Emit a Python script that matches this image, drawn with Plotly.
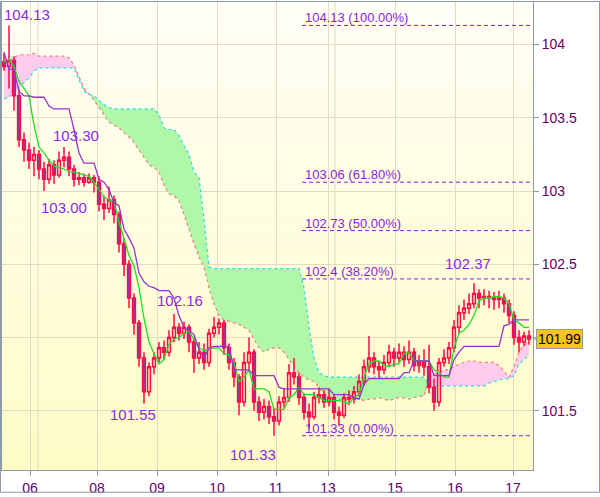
import plotly.graph_objects as go

# ---------------- data ----------------
day_labels = ["06", "08", "09", "10", "11", "13", "15", "16", "17"]
day_pos = [5.2, 18.6, 30.6, 42.6, 54.4, 64.8, 78.2, 90.2, 101.8]
extra_grid = [6.8, 66.2]

y_ticks = [101.5, 102.0, 102.5, 103.0, 103.5, 104.0]
y_ticklabels = ["101.5", "102", "102.5", "103", "103.5", "104"]

opens = [
    103.88, 103.85, 103.89, 103.65, 103.35, 103.28, 103.21, 103.25, 103.15, 103.08,
    103.18, 103.11, 103.21, 103.23, 103.15, 103.08, 103.09, 103.06, 103.09, 103.06,
    102.91, 102.88, 102.94, 102.84, 102.64, 102.50, 102.27, 102.10, 101.86, 101.63,
    101.80, 101.86, 101.93, 101.90, 102.00, 102.07, 102.03, 102.07, 101.97, 101.86,
    101.90, 101.83, 102.03, 102.07, 102.10, 101.93, 101.83, 101.73, 101.56, 101.83,
    101.90, 101.56, 101.49, 101.53, 101.46, 101.43, 101.56, 101.59, 101.76, 101.73,
    101.59, 101.49, 101.46, 101.59, 101.61, 101.56, 101.59, 101.49, 101.47, 101.59,
    101.58, 101.63, 101.70, 101.80, 101.86, 101.80, 101.78, 101.83, 101.90, 101.86,
    101.90, 101.85, 101.90, 101.81, 101.83, 101.80, 101.66, 101.56, 101.83, 101.86,
    101.93, 102.07, 102.17, 102.20, 102.23, 102.30, 102.27, 102.28, 102.27, 102.26,
    102.27, 102.23, 102.15, 102.00, 101.97, 102.01]
closes = [
    103.85, 103.89, 103.65, 103.35, 103.28, 103.21, 103.25, 103.15, 103.08, 103.18,
    103.11, 103.21, 103.23, 103.15, 103.08, 103.09, 103.06, 103.09, 103.06, 102.91,
    102.88, 102.94, 102.84, 102.64, 102.50, 102.27, 102.10, 101.86, 101.63, 101.80,
    101.86, 101.93, 101.90, 102.00, 102.07, 102.03, 102.07, 101.97, 101.86, 101.90,
    101.83, 102.03, 102.07, 102.10, 101.93, 101.83, 101.73, 101.56, 101.83, 101.90,
    101.56, 101.49, 101.53, 101.46, 101.43, 101.56, 101.59, 101.76, 101.73, 101.59,
    101.49, 101.46, 101.59, 101.61, 101.56, 101.59, 101.49, 101.47, 101.59, 101.58,
    101.63, 101.70, 101.80, 101.86, 101.80, 101.78, 101.83, 101.90, 101.86, 101.90,
    101.85, 101.90, 101.81, 101.83, 101.80, 101.66, 101.56, 101.83, 101.86, 101.93,
    102.07, 102.17, 102.20, 102.23, 102.30, 102.27, 102.28, 102.27, 102.26, 102.27,
    102.23, 102.15, 102.00, 101.97, 102.01, 101.99]
highs = [
    103.94, 104.13, 103.92, 103.70, 103.40, 103.33, 103.30, 103.28, 103.20, 103.22,
    103.21, 103.27, 103.30, 103.27, 103.18, 103.13, 103.12, 103.12, 103.11, 103.10,
    102.97, 103.03, 102.97, 102.86, 102.68, 102.53, 102.30, 102.12, 101.90, 101.83,
    101.90, 101.97, 101.98, 102.05, 102.16, 102.10, 102.11, 102.09, 102.00, 101.97,
    101.96, 102.06, 102.14, 102.13, 102.12, 101.96, 101.86, 101.75, 101.90, 102.00,
    101.92, 101.60, 101.58, 101.57, 101.52, 101.60, 101.65, 101.82, 101.86, 101.76,
    101.62, 101.55, 101.63, 101.66, 101.64, 101.65, 101.61, 101.53, 101.62, 101.64,
    101.67, 101.75, 101.85, 102.01, 101.90, 101.84, 101.88, 101.95, 101.93, 101.96,
    101.94, 101.98, 101.93, 101.88, 101.92, 101.95, 101.72, 101.86, 101.92, 101.97,
    102.12, 102.22, 102.26, 102.30, 102.37, 102.33, 102.33, 102.32, 102.31, 102.32,
    102.30, 102.26, 102.18, 102.05, 102.04, 102.05]
lows = [
    103.82, 103.70, 103.55, 103.30, 103.20, 103.15, 103.10, 103.08, 103.00, 103.05,
    103.05, 103.09, 103.16, 103.10, 103.03, 103.04, 103.03, 103.05, 102.99, 102.86,
    102.80, 102.85, 102.78, 102.58, 102.42, 102.20, 102.02, 101.80, 101.55, 101.60,
    101.75, 101.83, 101.85, 101.87, 101.97, 101.98, 101.99, 101.90, 101.76, 101.82,
    101.78, 101.80, 102.00, 102.02, 101.88, 101.78, 101.66, 101.47, 101.53, 101.78,
    101.50, 101.43, 101.44, 101.41, 101.33, 101.40, 101.52, 101.56, 101.68, 101.54,
    101.44, 101.38, 101.44, 101.55, 101.52, 101.53, 101.44, 101.40, 101.45, 101.54,
    101.55, 101.60, 101.67, 101.76, 101.75, 101.72, 101.75, 101.80, 101.80, 101.83,
    101.80, 101.82, 101.77, 101.76, 101.74, 101.62, 101.50, 101.53, 101.80, 101.82,
    101.90, 102.03, 102.12, 102.16, 102.20, 102.20, 102.22, 102.20, 102.19, 102.20,
    102.17, 102.10, 101.95, 101.90, 101.94, 101.95]

tenkan = [
    103.88, 103.90, 103.85, 103.75, 103.70, 103.65, 103.45, 103.30, 103.26, 103.21,
    103.17, 103.16, 103.15, 103.13, 103.13, 103.12, 103.11, 103.10, 103.06, 103.01,
    102.96, 102.94, 102.93, 102.79, 102.67, 102.56, 102.49, 102.34, 102.13, 101.97,
    101.89, 101.82, 101.85, 101.95, 101.99, 102.00, 102.03, 102.04, 101.99, 101.93,
    101.91, 101.92, 101.93, 101.93, 101.89, 101.88, 101.83, 101.70, 101.73, 101.78,
    101.65, 101.65, 101.65, 101.63, 101.51, 101.51, 101.51, 101.59, 101.61, 101.66,
    101.61, 101.61, 101.61, 101.59, 101.57, 101.57, 101.57, 101.57, 101.56, 101.55,
    101.59, 101.61, 101.73, 101.82, 101.84, 101.84, 101.81, 101.80, 101.82, 101.82,
    101.89, 101.90, 101.84, 101.84, 101.84, 101.84, 101.78, 101.76, 101.73, 101.73,
    101.93, 102.03, 102.05, 102.09, 102.15, 102.25, 102.27, 102.27, 102.28, 102.28,
    102.27, 102.23, 102.12, 102.10, 102.07, 102.07]
kijun = [
    103.95, 103.83, 103.83, 103.68, 103.65, 103.65, 103.64, 103.64, 103.64, 103.58,
    103.56, 103.56, 103.56, 103.56, 103.42, 103.26, 103.19, 103.19, 103.19, 103.08,
    103.06, 103.01, 102.92, 102.90, 102.74, 102.68, 102.61, 102.44, 102.38, 102.35,
    102.34, 102.32, 102.32, 102.32, 102.27, 102.15, 102.07, 102.05, 102.02, 101.92,
    101.86, 101.93, 101.94, 101.94, 101.94, 101.94, 101.78, 101.78, 101.78, 101.78,
    101.74, 101.74, 101.74, 101.74, 101.74, 101.66, 101.65, 101.65, 101.65, 101.65,
    101.65, 101.65, 101.65, 101.65, 101.65, 101.65, 101.61, 101.61, 101.61, 101.61,
    101.59, 101.58, 101.68, 101.72, 101.72, 101.72, 101.72, 101.72, 101.72, 101.72,
    101.76, 101.76, 101.84, 101.84, 101.84, 101.84, 101.74, 101.74, 101.74, 101.74,
    101.85, 101.90, 101.94, 101.94, 101.94, 101.94, 101.94, 101.94, 101.94, 101.94,
    102.08, 102.09, 102.12, 102.12, 102.12, 102.12]
span_red = [
    103.89, 103.89, 103.91, 103.93, 103.93, 103.93, 103.94, 103.92, 103.92, 103.92,
    103.92, 103.92, 103.92, 103.91, 103.86, 103.78, 103.70, 103.66, 103.62, 103.57,
    103.52, 103.47, 103.45, 103.43, 103.40, 103.37, 103.33, 103.28, 103.23, 103.18,
    103.16, 103.13, 103.04, 102.98, 102.97, 102.93, 102.84, 102.74, 102.64, 102.55,
    102.48, 102.34, 102.23, 102.15, 102.12, 102.11, 102.10, 102.09, 102.07, 102.05,
    101.99, 101.93, 101.90, 101.92, 101.93, 101.93, 101.90, 101.85, 101.80, 101.76,
    101.73, 101.71, 101.70, 101.66, 101.61, 101.58, 101.57, 101.58, 101.57, 101.58,
    101.59, 101.58, 101.57, 101.58, 101.58, 101.59, 101.58, 101.57, 101.58, 101.59,
    101.59, 101.58, 101.59, 101.60, 101.60, 101.73, 101.75, 101.76, 101.78, 101.78,
    101.80, 101.82, 101.83, 101.84, 101.84, 101.83, 101.83, 101.83, 101.83, 101.81,
    101.77, 101.73, 101.80, 101.90, 101.95, 101.97]
span_cyan = [
    103.63, 103.64, 103.68, 103.71, 103.74, 103.77, 103.82, 103.84, 103.84, 103.84,
    103.84, 103.84, 103.84, 103.84, 103.84, 103.76, 103.68, 103.66, 103.65, 103.62,
    103.59, 103.57, 103.56, 103.56, 103.56, 103.56, 103.56, 103.56, 103.56, 103.56,
    103.56, 103.52, 103.43, 103.42, 103.42, 103.38, 103.31, 103.25, 103.13, 103.09,
    102.81, 102.48, 102.47, 102.47, 102.47, 102.47, 102.47, 102.47, 102.47, 102.47,
    102.47, 102.47, 102.47, 102.47, 102.47, 102.47, 102.47, 102.47, 102.47, 102.47,
    102.34, 102.07, 101.86, 101.76, 101.74, 101.73, 101.73, 101.73, 101.73, 101.73,
    101.73, 101.73, 101.73, 101.73, 101.73, 101.73, 101.73, 101.73, 101.73, 101.73,
    101.73, 101.73, 101.73, 101.73, 101.73, 101.68, 101.67, 101.67, 101.67, 101.67,
    101.67, 101.67, 101.67, 101.67, 101.67, 101.67, 101.67, 101.69, 101.70, 101.71,
    101.72, 101.72, 101.74, 101.82, 101.85, 101.88]

fib_levels = [104.13, 103.06, 102.73, 102.40, 101.33]
fib_labels = ["104.13 (100.00%)", "103.06 (61.80%)", "102.73 (50.00%)",
              "102.4 (38.20%)", "101.33 (0.00%)"]
fib_start, fib_end = 59.6, 105.4

# extreme labels: text, candle index, price, pixel offsets
peak_text = ["104.13", "103.30", "103.00", "102.16", "101.55", "101.33", "102.37"]
peak_idx = [1, 12, 8, 34, 28, 54, 94]
peak_price = [104.13, 103.30, 103.00, 102.16, 101.55, 101.33, 102.37]
peak_dx = [18, 12, 20, 6, -11, -21, -6]
peak_dy = [11, 12, -16, 14, -11, -19, 20]

last_price = 101.99

# ---------------- figure ----------------
FONT = "Liberation Sans, Arial, sans-serif"
xs = list(range(len(closes)))
X_RANGE = [-0.4, 105.8]
Y_RANGE = [101.096, 104.29]
L, R, T, B = 2, 67, 1, 23
W, H = 600, 497
PW, PH = W - L - R, H - T - B

fig = go.Figure()
shapes = []

# background gradient (plot area)
top_c, bot_c = (255, 255, 246), (255, 251, 198)
NB = 40
for k in range(NB):
    f = k / (NB - 1)
    c = tuple(round(top_c[j] + (bot_c[j] - top_c[j]) * f) for j in range(3))
    shapes.append(dict(type="rect", xref="paper", yref="paper", x0=0, x1=1,
                       y0=1 - (k + 1) / NB, y1=1 - k / NB,
                       fillcolor="rgb(%d,%d,%d)" % c, line_width=0, layer="below"))
for gx in extra_grid:
    shapes.append(dict(type="line", xref="x", yref="paper", x0=gx, x1=gx, y0=0, y1=1,
                       line=dict(color="#e0dcc4", width=1), layer="below"))

lo = [min(a, b) for a, b in zip(span_red, span_cyan)]


def poly(upper, lower):
    pts = ["%s,%s" % (x, y) for x, y in zip(xs, upper)]
    pts += ["%s,%s" % (x, y) for x, y in zip(xs[::-1], lower[::-1])]
    return "M" + " L".join(pts) + " Z"


def pline(vals):
    return "M" + " L".join("%s,%s" % (x, y) for x, y in zip(xs, vals))


shapes.append(dict(type="path", xref="x", yref="y", path=poly(span_red, lo),
                   fillcolor="#ffccee", line_width=0, layer="between"))
shapes.append(dict(type="path", xref="x", yref="y", path=poly(span_cyan, lo),
                   fillcolor="#b0f7a8", line_width=0, layer="between"))
shapes.append(dict(type="path", xref="x", yref="y", path=pline(span_red),
                   line=dict(color="#f08080", width=1.2, dash="3px,3px"), layer="between"))
shapes.append(dict(type="path", xref="x", yref="y", path=pline(span_cyan),
                   line=dict(color="#22ddee", width=1.2, dash="3px,3px"), layer="between"))

# candles
fig.add_trace(go.Candlestick(
    x=xs, open=opens, high=highs, low=lows, close=closes,
    increasing=dict(line=dict(color="#ff0a46", width=1.5), fillcolor="rgba(255,255,255,0)"),
    decreasing=dict(line=dict(color="#ff0a46", width=1.5), fillcolor="#7a44b8"),
    whiskerwidth=0, showlegend=False, hoverinfo="skip"))

fig.add_trace(go.Scatter(x=xs, y=tenkan, mode="lines", line=dict(color="#22dd22", width=1.3),
                         showlegend=False, hoverinfo="skip"))
fig.add_trace(go.Scatter(x=xs, y=kijun, mode="lines", line=dict(color="#9933cc", width=1.3),
                         showlegend=False, hoverinfo="skip"))

annotations = []
for lev, lab in zip(fib_levels, fib_labels):
    fig.add_trace(go.Scatter(x=[fib_start, fib_end], y=[lev, lev], mode="lines",
                             line=dict(color="#8a1ee0", width=1, dash="4px,3px"),
                             showlegend=False, hoverinfo="skip"))
    annotations.append(dict(x=fib_start, y=lev, xref="x", yref="y", text=lab,
                            showarrow=False, xanchor="left", yanchor="bottom",
                            xshift=1, yshift=-2,
                            font=dict(family=FONT, size=13, color="#8a1ee0")))

for t, i, p, dx, dy in zip(peak_text, peak_idx, peak_price, peak_dx, peak_dy):
    annotations.append(dict(x=i, y=p, xref="x", yref="y", text=t, showarrow=False,
                            xanchor="center", yanchor="middle", xshift=dx, yshift=dy,
                            font=dict(family=FONT, size=15, color="#8a2be2")))

annotations.append(dict(x=1, y=last_price, xref="paper", yref="y", text=str(last_price),
                        showarrow=False, xanchor="left", yanchor="middle", xshift=3,
                        bgcolor="#f7c41a", bordercolor="#9a9a9a", borderwidth=1, borderpad=1,
                        font=dict(family=FONT, size=14, color="#000000")))
shapes.append(dict(type="line", xref="paper", yref="y", x0=1, x1=1 + 5 / PW,
                   y0=last_price, y1=last_price, line=dict(color="#8e9aa6", width=1),
                   layer="above"))
# outer frame
shapes.append(dict(type="rect", xref="paper", yref="paper",
                   x0=-(L - 0.5) / PW, x1=1 + (R - 0.5) / PW,
                   y0=-(B - 0.5) / PH, y1=1 + (T - 0.5) / PH,
                   line=dict(color="#8e9aa6", width=1), fillcolor="rgba(0,0,0,0)",
                   layer="above"))

axis_common = dict(showline=True, linecolor="#8e9aa6", linewidth=1, mirror=True,
                   ticks="outside", ticklen=5, tickcolor="#8e9aa6",
                   showgrid=True, gridcolor="#e0dcc4", gridwidth=1, zeroline=False,
                   tickfont=dict(family=FONT, size=14, color="#660066"))

fig.update_layout(
    width=W, height=H,
    margin=dict(l=L, r=R, t=T, b=B),
    paper_bgcolor="#ffffff", plot_bgcolor="#fffff6",
    shapes=shapes, annotations=annotations,
    boxgap=0.2,
    xaxis=dict(range=X_RANGE, tickmode="array", tickvals=day_pos, ticktext=day_labels,
               rangeslider=dict(visible=False), **axis_common),
    yaxis=dict(range=Y_RANGE, side="right", tickmode="array", tickvals=y_ticks,
               ticktext=y_ticklabels, **axis_common),
    showlegend=False, hovermode=False,
)

fig.write_html("out.html",
               config={"displayModeBar": False, "staticPlot": True},
               post_script="document.body.style.margin='0';"
                           "document.body.style.overflow='hidden';")
